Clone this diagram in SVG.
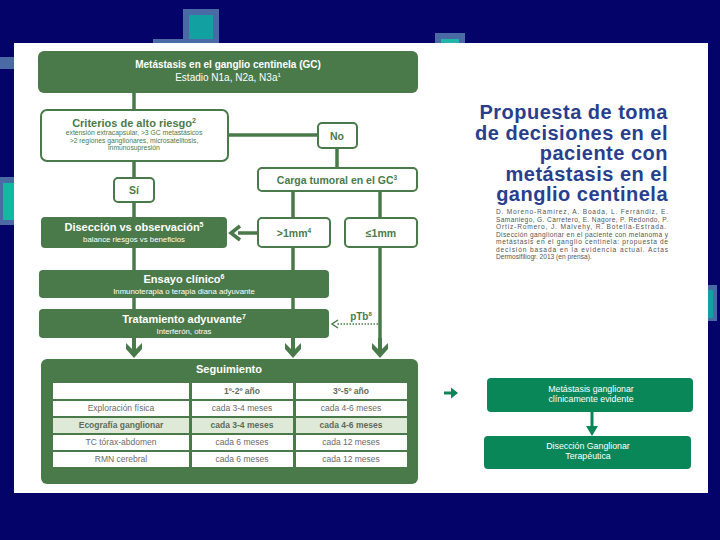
<svg xmlns="http://www.w3.org/2000/svg" width="720" height="540" viewBox="0 0 720 540">
<style>
text{font-family:"Liberation Sans",Arial,sans-serif}
.g{fill:#4b7a4a}
.ob{fill:#ffffff;stroke:#4b7a4a;stroke-width:2}
.wb{fill:#ffffff;font-weight:bold;text-anchor:middle}
.wr{fill:#ffffff;text-anchor:middle}
.gb{fill:#4b7a4a;font-weight:bold;text-anchor:middle}
.gs{fill:#4b7a4a;text-anchor:middle;font-size:6.8px}
.ln{stroke:#4b7a4a;stroke-width:3.5;fill:none}
.cell{fill:#ffffff}
.tc{fill:#6b6b6b;font-size:8.5px;text-anchor:middle}
.tb{fill:#5f6b5a;font-size:8.5px;text-anchor:middle;font-weight:bold}
.rb{fill:#0a8758}
.rt{fill:#ffffff;font-size:8.8px;text-anchor:middle}
.cit{fill:#555555;font-size:6.6px}
.ttl{fill:#2a3e8e;font-size:20px;font-weight:bold;text-anchor:end;letter-spacing:0.5px}
</style>
<!-- background -->
<rect x="0" y="0" width="720" height="540" fill="#03036a"/>
<g id="deco">
<rect x="183" y="9" width="36" height="36" fill="#4a6aa6"/>
<rect x="153" y="39" width="66" height="6" fill="#4a6aa6"/>
<rect x="189" y="15" width="24" height="24" fill="#12a0a0"/>
<rect x="435" y="33" width="30" height="12" fill="#4a6aa6"/>
<rect x="441" y="39" width="18" height="6" fill="#1fb8a8"/>
<rect x="0" y="57" width="16" height="12" fill="#4a6aa6"/>
<rect x="0" y="177" width="16" height="48" fill="#4a6aa6"/>
<rect x="3" y="183" width="13" height="37" fill="#12b8a0"/>
<rect x="706" y="285" width="11" height="36" fill="#4a6aa6"/>
<rect x="706" y="290" width="7" height="28" fill="#12a0a0"/>
</g>
<rect x="14" y="43" width="694" height="450" fill="#ffffff"/>

<g id="connectors">
<line class="ln" x1="134" y1="93" x2="134" y2="110"/>
<line class="ln" x1="228" y1="135" x2="318" y2="135"/>
<line class="ln" x1="337" y1="148" x2="337" y2="168"/>
<line class="ln" x1="134" y1="161" x2="134" y2="178"/>
<line class="ln" x1="134" y1="202" x2="134" y2="217"/>
<line class="ln" x1="293" y1="191" x2="293" y2="218"/>
<line class="ln" x1="380" y1="191" x2="380" y2="218"/>
<line class="ln" x1="258" y1="233" x2="238" y2="233"/>
<polyline points="240,226 231,233 240,240" fill="none" stroke="#4b7a4a" stroke-width="3.5"/>
<line class="ln" x1="134" y1="248" x2="134" y2="270"/>
<line class="ln" x1="134" y1="298" x2="134" y2="309"/>
<line class="ln" x1="293" y1="247" x2="293" y2="270"/>
<line class="ln" x1="293" y1="298" x2="293" y2="309"/>
<line class="ln" x1="380" y1="247" x2="380" y2="345"/>
<line class="ln" x1="134" y1="338" x2="134" y2="345"/>
<line class="ln" x1="293" y1="338" x2="293" y2="345"/>
<path d="M126,343 L134,351 L142,343 L142,349 L134,358 L126,349 Z M132,338 H136 V352 H132 Z" class="g"/>
<path d="M285,343 L293,351 L301,343 L301,349 L293,358 L285,349 Z M291,338 H295 V352 H291 Z" class="g"/>
<path d="M372,343 L380,351 L388,343 L388,349 L380,358 L372,349 Z M378,338 H382 V352 H378 Z" class="g"/>
<line x1="378" y1="324" x2="336" y2="324" stroke="#4b7a4a" stroke-width="1.5" stroke-dasharray="1.5,1.5"/>
<polyline points="338,320 332,324 338,328" fill="none" stroke="#4b7a4a" stroke-width="1.5"/>
<text x="361" y="320" font-size="10" font-weight="bold" fill="#4b7a4a" text-anchor="middle">pTb<tspan font-size="6" dy="-4">8</tspan></text>
<path d="M444,391.5 H451 V387.5 L458,393 L451,398.5 V394.5 H444 Z" fill="#0a8758"/>
<path d="M590.5,412 H593.5 V426 H598 L592,436 L586,426 H590.5 Z" fill="#0a8758"/>
</g>

<g id="n-header">
<rect x="38" y="51" width="380" height="42" rx="6" class="g"/>
<text x="228" y="68" class="wb" font-size="10">Metástasis en el ganglio centinela (GC)</text>
<text x="228" y="81" class="wr" font-size="10">Estadio N1a, N2a, N3a<tspan font-size="6" dy="-4">1</tspan></text>
</g>
<g id="n-criterios">
<rect x="41" y="110" width="187" height="51" rx="6" class="ob"/>
<text x="134" y="127" class="gb" font-size="11">Criterios de alto riesgo<tspan font-size="7" dy="-4">2</tspan></text>
<text x="134" y="135" class="gs">extensión extracapsular, &gt;3 GC metastásicos</text>
<text x="134" y="142.6" class="gs">&gt;2 regiones ganglionares, microsatelitosis,</text>
<text x="134" y="150.2" class="gs">inmunosupresión</text>
</g>
<g id="n-no">
<rect x="318" y="123" width="39" height="25" rx="4" class="ob"/>
<text x="337" y="140" class="gb" font-size="10.5">No</text>
</g>
<g id="n-carga">
<rect x="258" y="168" width="159" height="23" rx="4" class="ob"/>
<text x="337" y="184" class="gb" font-size="10.5">Carga tumoral en el GC<tspan font-size="6.5" dy="-4">3</tspan></text>
</g>
<g id="n-si">
<rect x="114" y="178" width="40" height="24" rx="4" class="ob"/>
<text x="134" y="194" class="gb" font-size="10.5">Sí</text>
</g>
<g id="n-diseccion">
<rect x="41" y="217" width="186" height="31" rx="4" class="g"/>
<text x="134" y="231" class="wb" font-size="11">Disección vs observación<tspan font-size="7" dy="-4">5</tspan></text>
<text x="134" y="242" class="wr" font-size="7.8">balance riesgos vs beneficios</text>
</g>
<g id="n-mayor1">
<rect x="258" y="218" width="72" height="29" rx="4" class="ob"/>
<text x="294" y="237" class="gb" font-size="10.5">&gt;1mm<tspan font-size="6.5" dy="-4">4</tspan></text>
</g>
<g id="n-menor1">
<rect x="345" y="218" width="72" height="29" rx="4" class="ob"/>
<text x="381" y="237" class="gb" font-size="10.5">≤1mm</text>
</g>
<g id="n-ensayo">
<rect x="39" y="270" width="290" height="28" rx="4" class="g"/>
<text x="184" y="283" class="wb" font-size="11">Ensayo clínico<tspan font-size="7" dy="-4">6</tspan></text>
<text x="184" y="294" class="wr" font-size="7.8">Inmunoterapia o terapia diana adyuvante</text>
</g>
<g id="n-tratamiento">
<rect x="39" y="309" width="290" height="29" rx="4" class="g"/>
<text x="184" y="323" class="wb" font-size="11">Tratamiento adyuvante<tspan font-size="7" dy="-4">7</tspan></text>
<text x="184" y="334" class="wr" font-size="7.8">Interferón, otras</text>
</g>
<g id="n-seguimiento">
<rect x="41" y="359" width="377" height="125" rx="6" class="g"/>
<text x="229" y="373" class="wb" font-size="11">Seguimiento</text>
<rect x="53" y="383" width="136" height="16" class="cell"/>
<rect x="192" y="383" width="101" height="16" class="cell"/>
<rect x="296" y="383" width="111" height="16" class="cell"/>
<rect x="53" y="401" width="136" height="15" class="cell"/>
<rect x="192" y="401" width="101" height="15" class="cell"/>
<rect x="296" y="401" width="111" height="15" class="cell"/>
<rect x="53" y="418" width="136" height="15" fill="#dfe9d8"/>
<rect x="192" y="418" width="101" height="15" fill="#dfe9d8"/>
<rect x="296" y="418" width="111" height="15" fill="#dfe9d8"/>
<rect x="53" y="435" width="136" height="15" class="cell"/>
<rect x="192" y="435" width="101" height="15" class="cell"/>
<rect x="296" y="435" width="111" height="15" class="cell"/>
<rect x="53" y="452" width="136" height="15" class="cell"/>
<rect x="192" y="452" width="101" height="15" class="cell"/>
<rect x="296" y="452" width="111" height="15" class="cell"/>
<text x="242" y="394" class="tb">1º-2º año</text>
<text x="351" y="394" class="tb">3º-5º año</text>
<text x="121" y="411" class="tc">Exploración física</text>
<text x="242" y="411" class="tc">cada 3-4 meses</text>
<text x="351" y="411" class="tc">cada 4-6 meses</text>
<text x="121" y="428" class="tb">Ecografía ganglionar</text>
<text x="242" y="428" class="tb">cada 3-4 meses</text>
<text x="351" y="428" class="tb">cada 4-6 meses</text>
<text x="121" y="445" class="tc">TC tórax-abdomen</text>
<text x="242" y="445" class="tc">cada 6 meses</text>
<text x="351" y="445" class="tc">cada 12 meses</text>
<text x="121" y="462" class="tc">RMN cerebral</text>
<text x="242" y="462" class="tc">cada 6 meses</text>
<text x="351" y="462" class="tc">cada 12 meses</text>
</g>

<g id="title">
<text x="668" y="119" class="ttl">Propuesta de toma</text>
<text x="668" y="139.5" class="ttl">de decisiones en el</text>
<text x="668" y="160" class="ttl">paciente con</text>
<text x="668" y="180.5" class="ttl">metástasis en el</text>
<text x="668" y="201" class="ttl">ganglio centinela</text>
</g>
<g id="citation">
<text x="496" y="214" class="cit" textLength="172" lengthAdjust="spacing">D. Moreno-Ramírez, A. Boada, L. Ferrándiz, E.</text>
<text x="496" y="221.5" class="cit" textLength="172" lengthAdjust="spacing">Samaniego, G. Carretero, E. Nagore, P. Redondo, P.</text>
<text x="496" y="229" class="cit" textLength="170" lengthAdjust="spacing">Ortiz-Romero, J. Malvehy, R. Botella-Estrada.</text>
<text x="496" y="236.5" class="cit" textLength="172" lengthAdjust="spacing">Disección ganglionar en el paciente con melanoma y</text>
<text x="496" y="244" class="cit" textLength="172" lengthAdjust="spacing">metástasis en el ganglio centinela: propuesta de</text>
<text x="496" y="251.5" class="cit" textLength="172" lengthAdjust="spacing">decisión basada en la evidencia actual. Actas</text>
<text x="496" y="259" class="cit">Dermosifiliogr. 2013 (en prensa).</text>
</g>

<g id="n-clinica">
<rect x="487" y="378" width="206" height="34" rx="4" class="rb"/>
<text x="591" y="392" class="rt">Metástasis ganglionar</text>
<text x="591" y="402" class="rt">clínicamente evidente</text>
</g>
<g id="n-terapeutica">
<rect x="484" y="436" width="207" height="33" rx="4" class="rb"/>
<text x="588" y="449" class="rt">Disección Ganglionar</text>
<text x="588" y="459" class="rt">Terapéutica</text>
</g>
</svg>
